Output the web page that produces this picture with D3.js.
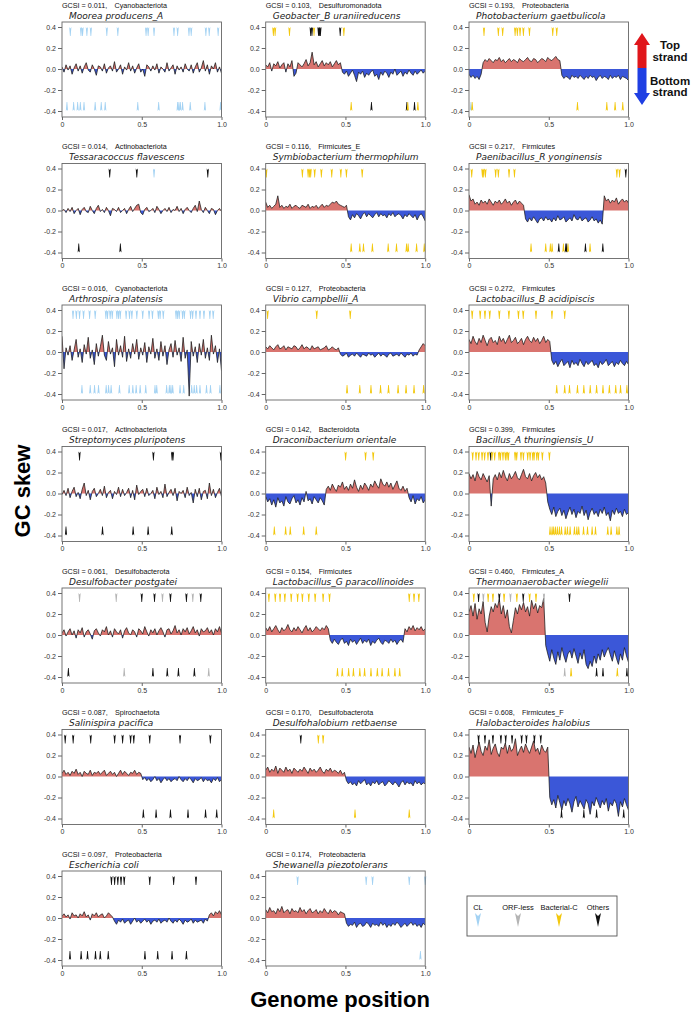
<!DOCTYPE html>
<html><head><meta charset="utf-8">
<script src="https://cdn.jsdelivr.net/npm/d3@7"></script>
<style>body{margin:0;background:#fff}svg{display:block}</style>
</head><body>
<svg id="c" width="691" height="1019"></svg>
<script>
// ---------------- DATA ----------------
const gcsiValues = ["0.011","0.014","0.016","0.017","0.061","0.087","0.097","0.103","0.116","0.127","0.142","0.154","0.170","0.174","0.193","0.217","0.272","0.399","0.460","0.608"];
const phyla = ["Cyanobacteriota","Actinobacteriota","Cyanobacteriota","Actinobacteriota","Desulfobacterota","Spirochaetota","Proteobacteria","Desulfuromonadota","Firmicutes_E","Proteobacteria","Bacteroidota","Firmicutes","Desulfobacterota","Proteobacteria","Proteobacteria","Firmicutes","Firmicutes","Firmicutes","Firmicutes_A","Firmicutes_F"];
const species = ["Moorea producens_A","Tessaracoccus flavescens","Arthrospira platensis","Streptomyces pluripotens","Desulfobacter postgatei","Salinispira pacifica","Escherichia coli","Geobacter_B uraniireducens","Symbiobacterium thermophilum","Vibrio campbellii_A","Draconibacterium orientale","Lactobacillus_G paracollinoides","Desulfohalobium retbaense","Shewanella piezotolerans","Photobacterium gaetbulicola","Paenibacillus_R yonginensis","Lactobacillus_B acidipiscis","Bacillus_A thuringiensis_U","Thermoanaerobacter wiegelii","Halobacteroides halobius"];

const yTicks = [0.4,0.2,0,-0.2,-0.4];
const yTickLabels = ["0.4","0.2","0.0","-0.2","-0.4"];
const xTicks = [0,0.5,1];
const xTickLabels = ["0","0.5","1.0"];
const legendLabels = ["CL","ORF-less","Bacterial-C","Others"];
const legendTypes = ["C","O","B","X"];

// GC skew (x 0.01), evenly spaced along the genome
const skewMoorea = [2,-3,4,-1,3,-5,1,5,-2,3,-4,2,6,-1,-3,4,0,-6,3,2,-2,5,-4,1,3,-2,7,-3,0,4,-5,2,-1,6,-2,3,-4,1,5,-3,0,-7,4,2,-2,3,-1,5,-4,2,0,-3,6,-2,1,4,-5,3,-1,2,-3,5,0,-2,4,-4,2,6,-3,1,8,-2,4,-5,3,0,6,-3,2,-4];
const skewTessaracoccus = [0,1,-2,2,-1,3,-3,0,2,-4,1,3,-1,-2,4,0,-3,2,5,-1,1,-2,3,0,-5,2,1,-1,3,-2,0,2,-3,1,4,-1,2,5,6,-2,-4,1,3,-1,0,2,-2,4,1,-3,0,2,-1,3,-2,1,0,4,-1,2,-3,1,3,0,-2,2,5,-1,9,1,-2,3,0,-3,2,1,-4,0,2,-1];
const skewArthrospira = [15,-16,4,-3,6,-8,2,12,-5,3,-10,7,-2,14,-6,2,-12,8,-4,5,16,-3,-8,10,-2,4,-14,12,-3,6,-5,15,-9,3,-6,8,-2,12,-7,4,-3,9,-10,5,-2,13,-6,3,-8,10,-4,6,-12,2,8,-5,11,-3,4,-9,14,-6,2,-42,10,-4,5,-10,8,-3,12,-6,4,-8,16,-2,6,-10,3,-18];
const skewStreptomyces = [-1,3,-2,5,-4,2,6,-3,1,-5,4,10,-2,3,-6,2,5,-3,0,4,-2,7,-4,1,3,-5,2,-1,6,-3,4,-2,1,5,-4,3,-6,8,-1,2,4,-3,5,-2,0,3,-5,6,-1,2,-4,9,-3,1,4,-2,5,-7,2,0,3,-4,6,-2,1,-9,4,-3,5,-6,2,3,-5,10,-2,4,-4,1,5,-3];
const skewDesulfobacter = [2,5,-1,3,6,0,4,-3,5,2,7,-2,3,5,1,-4,4,6,2,-1,5,3,8,0,4,-2,6,3,1,5,-3,4,7,2,0,5,3,-2,6,4,1,8,3,-1,5,2,6,0,4,7,3,-2,5,6,1,4,9,2,5,0,6,3,7,1,4,8,2,5,-1,6,3,4,7,2,5,0,6,3,8,2];
const skewSalinispira = [3,6,2,4,1,5,3,7,2,4,0,5,3,2,6,1,4,3,5,2,4,6,1,3,5,2,4,0,3,6,2,5,3,1,4,3,6,2,4,3,-3,-1,-4,-2,-5,-3,0,-4,-2,-6,-3,-1,-4,-2,-5,-3,-2,-4,0,-3,-5,-2,-4,-1,-3,-6,-2,-4,-3,-1,-5,-2,-4,-3,-6,-2,-4,-1,-5,-3];
const skewEcoli = [2,4,1,3,-1,5,2,3,0,4,2,6,1,3,-2,4,2,5,1,3,4,0,2,5,3,1,-3,-6,-2,-4,-1,-5,-3,-2,-6,-3,0,-4,-2,-5,-3,-1,-4,-2,-6,-3,-2,-4,-1,-5,-3,-2,-4,0,-3,-5,-2,-4,-1,-3,-6,-2,-4,-3,-1,-5,-2,-4,-3,-2,-5,-1,-3,3,5,2,6,4,7,3];
const skewGeobacter = [4,2,6,-2,5,3,7,1,4,6,-3,5,2,8,-7,-4,6,4,2,5,9,3,6,16,4,7,2,5,8,3,6,4,7,2,5,8,4,6,-3,-5,-2,-7,-4,-1,-6,-12,-3,-5,-2,-8,-4,-6,-3,-1,-7,-5,-10,-3,-6,-2,-4,-8,-3,-5,0,-6,-4,-2,-7,-3,-5,-1,-4,-6,-2,-5,-3,-1,-4,-2];
const skewSymbiobacterium = [8,3,5,2,4,6,14,3,5,2,4,3,6,2,4,5,3,2,5,4,3,6,2,4,3,5,2,4,6,3,5,4,6,8,7,9,6,5,4,3,5,-6,-9,-4,-7,-3,-5,-8,-4,-2,-6,-3,-5,-7,-4,-2,-6,-3,-5,-4,-7,-3,-5,-2,-6,-4,-3,-5,-8,-4,-6,-3,-5,-7,-4,-9,-5,-3,-6,-10];
const skewVibrio = [5,3,6,4,2,5,7,3,4,6,2,5,4,3,6,5,2,4,7,3,5,4,2,6,3,4,5,2,3,4,6,2,3,5,3,2,4,-2,-4,-3,-1,-5,-3,-2,-4,-1,-3,-5,-2,-3,-4,-1,-3,-2,-5,-3,-1,-4,-2,-3,-5,-2,-1,-4,-3,-2,-4,-1,-3,-5,-2,-3,-1,-4,-2,-3,2,5,8,6];
const skewDraconibacterium = [-3,-8,-5,-11,-6,-13,-4,-9,-7,-12,-3,-8,-10,-5,-2,-9,-6,-11,-4,-8,2,-7,-5,-10,-3,-6,-9,-4,-7,-11,4,7,3,9,5,2,8,6,11,4,7,3,9,5,13,6,2,8,4,10,7,3,9,6,12,8,5,14,9,7,11,6,10,4,8,12,5,3,7,2,5,-4,-8,-2,-10,-5,-7,-3,-9,-6];
const skewLactobacillusG = [7,4,8,3,6,9,5,2,7,4,6,10,5,3,7,4,8,5,2,6,9,4,7,3,5,8,6,4,7,5,9,6,-5,-8,-4,-7,-9,-5,-3,-8,-6,-10,-4,-7,-5,-9,-6,-3,-8,-5,-7,-4,-10,-6,-8,-5,-3,-7,-9,-5,-6,-8,-4,-7,-5,-9,-6,-4,-7,6,3,8,5,9,4,7,5,8,4,6];
const skewDesulfohalobium = [6,9,4,7,5,10,3,8,6,4,9,5,7,3,8,6,4,7,5,9,6,3,8,5,7,4,6,9,5,3,7,5,8,4,6,5,3,6,2,4,-4,-7,-5,-8,-6,-9,-4,-7,-5,-3,-8,-6,-9,-5,-7,-4,-8,-6,-5,-9,-7,-4,-6,-8,-5,-7,-10,-6,-4,-8,-5,-7,-6,-9,-4,-7,-5,-8,-6,-7];
const skewShewanella = [8,5,10,6,7,4,9,6,11,5,7,8,4,9,6,7,5,10,6,8,4,7,9,5,6,8,4,7,5,9,6,4,8,5,7,6,3,6,5,4,-5,-8,-6,-7,-4,-9,-6,-5,-8,-7,-4,-6,-9,-5,-7,-6,-8,-4,-7,-5,-9,-6,-8,-5,-7,-4,-6,-9,-7,-5,-8,-6,-4,-7,-5,-8,-6,-9,-5,-7];
const skewPhotobacterium = [-5,-8,-6,-9,-7,-10,-5,6,9,7,10,8,6,9,8,11,7,9,6,8,10,7,9,8,6,10,8,7,9,11,8,7,10,9,6,8,10,9,7,11,9,8,10,12,9,8,-6,-9,-7,-8,-10,-6,-8,-7,-9,-6,-8,-10,-7,-9,-6,-8,-7,-11,-8,-6,-9,-7,-8,-10,-6,-9,-7,-8,-6,-10,-7,-8,-9,-11];
const skewPaenibacillus = [15,9,11,6,8,5,10,7,9,6,11,8,5,9,7,10,6,8,11,7,9,5,8,10,6,9,7,5,-8,-11,-7,-10,-6,-9,-12,-8,-7,-10,-6,-9,-8,-11,-7,-10,-5,-9,-8,-6,-11,-9,-7,-10,-4,-8,-9,-6,-10,-8,-7,-11,-9,-6,-10,-8,-12,-9,-13,14,9,11,7,10,8,12,6,9,11,8,10,7];
const skewLactobacillusB = [12,8,15,10,7,13,9,16,11,6,12,14,9,11,7,15,10,13,8,12,16,9,11,14,8,10,13,7,12,15,11,9,14,10,13,8,11,15,9,12,10,-8,-12,-9,-14,-10,-7,-13,-11,-9,-15,-8,-12,-10,-13,-7,-11,-14,-9,-12,-10,-8,-13,-11,-15,-9,-12,-10,-7,-13,-11,-9,-14,-10,-12,-8,-11,-13,-9,-12];
const skewBacillus = [19,14,18,12,21,16,13,19,15,11,17,-12,14,18,13,20,15,22,16,12,19,14,17,21,15,13,18,23,16,14,19,12,17,20,15,18,13,16,10,-8,-15,-20,-13,-22,-17,-14,-21,-16,-24,-18,-13,-20,-15,-23,-17,-19,-12,-21,-16,-25,-18,-14,-20,-17,-22,-15,-19,-13,-21,-18,-26,-16,-20,-14,-19,-17,-22,-15,-20,-18];
const skewThermoanaerobacter = [22,28,18,30,15,25,20,32,12,3,18,27,22,30,26,34,20,28,16,24,8,2,14,26,20,29,24,31,22,27,18,33,25,30,21,28,26,35,-10,-18,-25,-14,-22,-28,-16,-24,-12,-20,-26,-18,-15,-22,-13,-20,-27,-17,-23,-14,-28,-32,-25,-30,-20,-27,-18,-24,-14,-21,-16,-12,-19,-25,-15,-22,-28,-18,-24,-12,-20,-26];
const skewHalobacteroides = [28,22,30,18,26,33,24,20,29,25,35,21,27,31,23,19,28,26,32,22,30,24,27,36,20,25,29,23,31,26,22,28,34,24,27,21,30,25,23,28,-20,-27,-22,-30,-18,-25,-32,-23,-28,-21,-26,-34,-24,-19,-29,-23,-27,-31,-22,-26,-36,-24,-28,-20,-25,-30,-23,-27,-21,-33,-25,-28,-22,-26,-38,-24,-29,-21,-27,-32];

// marker positions (fraction of genome); a letter sets the type of following positions
// C = CL, O = ORF-less, B = Bacterial-C, X = Others
const topMoorea = ["C",.052,.119,.129,.156,.181,.281,.35,.527,.54,.577,.702,.725,.796,.81,.902,.923,.979];
const botMoorea = ["C",.031,.073,.098,.115,.138,.208,.246,.271,.475,.606,.725,.733,.742,.756,.804,.896,.994];
const topTessaracoccus = ["X",.299,.469,"C",.577,"X",.914];
const botTessaracoccus = ["X",.105,.366];
const topArthrospira = ["C",.069,.09,.11,.135,.173,.208,.275,.285,.302,.315,.344,.354,.365,.402,.423,.438,.469,.506,.546,.567,.604,.615,.635,.715,.725,.735,.756,.767,.806,.819,.84,.865,.89,.927,.948];
const botArthrospira = ["C",.125,.177,.204,.229,.277,.292,.308,.36,.421,.444,.465,.49,.525,.583,.594,.656,.673,.683,.694,.74,.763,.813,.829,.844,.865,.906,.931,.99];
const topStreptomyces = ["X",.11,.573,.69,.696,.996];
const botStreptomyces = ["X",.025,.254,.446,.54,.688];
const topDesulfobacter = ["O",.11,.34,"X",.5,.58,"O",.63,"X",.68,.78,"O",.82,"X",.87];
const botDesulfobacter = ["X",.04,"O",.39,"X",.57,.66,.73,.83,"O",.92];
const topSalinispira = ["X",.02,.07,.18,.33,.38,.43,.45,.55,.74,.93];
const botSalinispira = ["X",.51,.59,.68,.79,.9,.97];
const topEcoli = ["X",.31,.33,.35,.37,.39,.55,.7,.84];
const botEcoli = ["X",.05,.12,.16,.21,.24,.29,.52,.6,.69,.78];
const topGeobacter = ["B",.048,.059,.149,"X",.282,.29,"B",.303,"X",.331,.337,.343,.467,"B",.49];
const botGeobacter = ["B",.536,"X",.663,.885,"B",.891,"X",.933,"B",.954];
const topSymbiobacterium = ["B",.004,.23,.266,.275,.282,.307,.349,.414,.471,.506,.605];
const botSymbiobacterium = ["B",.536,.59,.613,.669,.768,.82,.883,.893,.946,.994];
const topVibrio = ["B",.012,.32,.53];
const botVibrio = ["B",.51,.59,.66,.72,.77,.83,.88,.93,.99];
const topDraconibacterium = ["B",.501,.626,.674];
const botDraconibacterium = ["B",.054,.125,.154,.238,.317];
const topLactobacillusG = ["B",.02,.06,.09,.12,.16,.2,.23,.27,.31,.36,.4,.9,.93,.96];
const botLactobacillusG = ["B",.45,.48,.52,.55,.59,.62,.66,.7,.73,.77,.81,.84];
const topDesulfohalobium = ["X",.22,"B",.33,.36];
const botDesulfohalobium = ["B",.05,.56,.9];
const topShewanella = ["C",.2,.63,.67,.9,1.0];
const botShewanella = ["C",.97];
const topPhotobacterium = ["B",.094,.184,.211,.289,.303,.32,.341,.379,.525,.55];
const botPhotobacterium = ["C",.012,"B",.02,.68,.864,.916,.964];
const topPaenibacillus = ["B",.017,.084,.092,.103,.167,.184,.251,.285,.927,.944,"X",.983];
const botPaenibacillus = ["B",.389,.481,.51,.521,"X",.563,"B",.592,"X",.607,.613,"B",.621,"X",.73,"B",.759,"X",.839];
const topLactobacillusB = ["B",.02,.07,.1,.13,.19,.25,.31,.34,.42,.52,.6];
const botLactobacillusB = ["B",.55,.6,.63,.68,.72,.76,.8,.84,.88,.92,.95,.99];
const topBacillus = ["B",.023,.044,.061,.082,.098,.119,"X",.136,"B",.144,.161,.188,.197,.213,.228,.238,.247,.289,.299,.326,.341,.368,.383,.4,.408,.425,.435,.46,.504];
const botBacillus = ["B",.508,.521,.531,.542,.554,.567,.58,.603,.617,.634,.661,.676,.688,.718,.743,.772,.793,.87,.891,.927,.941];
const topThermoanaerobacter = ["B",.03,"X",.06,"O",.09,"B",.12,.15,"X",.19,"B",.22,"O",.26,"B",.3,"X",.34,"B",.38,.42,"O",.47,"X",.63];
const botThermoanaerobacter = ["O",.6,"B",.64,"X",.8,.84,"B",.93,"X",.99];
const topHalobacteroides = ["X",.06,.1,.15,.2,.23,.27,.33,.36,.41,.45];
const botHalobacteroides = ["X",.58,.72,.8,.97];

const panelSkews = [skewMoorea,skewTessaracoccus,skewArthrospira,skewStreptomyces,skewDesulfobacter,skewSalinispira,skewEcoli,skewGeobacter,skewSymbiobacterium,skewVibrio,skewDraconibacterium,skewLactobacillusG,skewDesulfohalobium,skewShewanella,skewPhotobacterium,skewPaenibacillus,skewLactobacillusB,skewBacillus,skewThermoanaerobacter,skewHalobacteroides];
const panelTop = [topMoorea,topTessaracoccus,topArthrospira,topStreptomyces,topDesulfobacter,topSalinispira,topEcoli,topGeobacter,topSymbiobacterium,topVibrio,topDraconibacterium,topLactobacillusG,topDesulfohalobium,topShewanella,topPhotobacterium,topPaenibacillus,topLactobacillusB,topBacillus,topThermoanaerobacter,topHalobacteroides];
const panelBot = [botMoorea,botTessaracoccus,botArthrospira,botStreptomyces,botDesulfobacter,botSalinispira,botEcoli,botGeobacter,botSymbiobacterium,botVibrio,botDraconibacterium,botLactobacillusG,botDesulfohalobium,botShewanella,botPhotobacterium,botPaenibacillus,botLactobacillusB,botBacillus,botThermoanaerobacter,botHalobacteroides];

// ---------------- DRAWING ----------------
const svg = d3.select("#c");
const colX = [62, 265.7, 469];
const rowY0 = 22, rowStep = 141.5, boxW = 159.5, boxH = 95;
const markerColor = {C:"#a3d2f3", O:"#b4b4b4", B:"#f3c80d", X:"#111111"};
const redFill = "#d9746f", blueFill = "#3b57d8";
const sansFont = "'Liberation Sans', Arial, sans-serif";

function parseMarkers(arr){
  let t = "X"; const out = [];
  arr.forEach(v => { if (typeof v === "string") t = v; else out.push({p:v, t}); });
  return out;
}
function withCrossings(vals){
  const n = vals.length, pts = [];
  for (let i = 0; i < n; i++){
    const xi = i/(n-1), vi = vals[i]/100;
    if (i > 0){
      const xp = (i-1)/(n-1), vp = vals[i-1]/100;
      if ((vp > 0 && vi < 0) || (vp < 0 && vi > 0)){
        pts.push([xp + (xi-xp)*(vp/(vp-vi)), 0]);
      }
    }
    pts.push([xi, vi]);
  }
  return pts;
}

panelSkews.forEach((vals, k) => {
  const col = Math.floor(k/7), row = k%7;
  const x0 = colX[col], y0 = rowY0 + row*rowStep;
  const x = d3.scaleLinear().domain([0,1]).range([x0, x0+boxW]);
  const y = d3.scaleLinear().domain([-0.4,0.4]).range([y0+89, y0+5]);
  const g = svg.append("g");

  g.append("clipPath").attr("id","clip"+k).append("rect")
    .attr("x",x0).attr("y",y0).attr("width",boxW).attr("height",boxH);

  const pts = withCrossings(vals);
  const plot = g.append("g").attr("clip-path",`url(#clip${k})`);
  plot.append("path").datum(pts)
    .attr("d", d3.area().x(d=>x(d[0])).y0(y(0)).y1(d=>y(Math.max(d[1],0))))
    .attr("fill", redFill);
  plot.append("path").datum(pts)
    .attr("d", d3.area().x(d=>x(d[0])).y0(y(0)).y1(d=>y(Math.min(d[1],0))))
    .attr("fill", blueFill);
  const linePts = vals.map((v,i)=>[i/(vals.length-1), v/100]);
  plot.append("path").datum(linePts)
    .attr("d", d3.line().x(d=>x(d[0])).y(d=>y(d[1])))
    .attr("fill","none").attr("stroke","#1a1a1a").attr("stroke-width",0.75)
    .attr("stroke-linejoin","round");

  // markers
  const tops = parseMarkers(panelTop[k]);
  g.selectAll(".mt").data(tops).join("path")
    .attr("transform", d => `translate(${x(d.p)},${y(0.40)})`)
    .attr("d", "M-1.1,0L0,1.6L1.1,0L0.35,9L-0.35,9Z")
    .attr("fill", d => markerColor[d.t]);
  const bots = parseMarkers(panelBot[k]);
  g.selectAll(".mb").data(bots).join("path")
    .attr("transform", d => `translate(${x(d.p)},${y(-0.40)})`)
    .attr("d", "M-1.1,0L0,-1.6L1.1,0L0.35,-9L-0.35,-9Z")
    .attr("fill", d => markerColor[d.t]);

  // box
  g.append("rect").attr("x",x0).attr("y",y0).attr("width",boxW).attr("height",boxH)
    .attr("fill","none").attr("stroke","#666").attr("stroke-width",0.9);

  // axes
  const ya = g.append("g").attr("transform",`translate(${x0},0)`)
    .call(d3.axisLeft(y).tickValues(yTicks).tickSize(4).tickPadding(2)
      .tickFormat((d,i)=>yTickLabels[i]));
  const xa = g.append("g").attr("transform",`translate(0,${y0+boxH})`)
    .call(d3.axisBottom(x).tickValues(xTicks).tickSize(3).tickPadding(2)
      .tickFormat((d,i)=>xTickLabels[i]));
  [ya, xa].forEach(a => {
    a.select(".domain").remove();
    a.selectAll("line").attr("stroke","#666");
    a.selectAll("text").attr("fill","#333").style("font",`7px ${sansFont}`);
  });

  // titles
  const t1 = g.append("text")
    .attr("transform",`translate(${x0},${y0-14.5}) scale(0.9,1)`)
    .attr("fill","#111").style("font",`8px ${sansFont}`);
  t1.append("tspan").text(`GCSI = ${gcsiValues[k]},`);
  t1.append("tspan").attr("dx",8).text(phyla[k]);
  g.append("text").attr("x",x0+7).attr("y",y0-3.5)
    .attr("fill","#222")
    .style("font","italic 9px 'DejaVu Sans', Verdana, sans-serif")
    .text(species[k]);
});

// strand arrows
const ax = 642;
svg.append("path")
  .attr("d",`M${ax},33 L${ax+8},45 L${ax+4.5},45 L${ax+4.5},68 L${ax-4.5},68 L${ax-4.5},45 L${ax-8},45 Z`)
  .attr("fill","#e0161b");
svg.append("path")
  .attr("d",`M${ax},105 L${ax+8},93 L${ax+4.5},93 L${ax+4.5},68 L${ax-4.5},68 L${ax-4.5},93 L${ax-8},93 Z`)
  .attr("fill","#1f3fe3");
[["Top",49],["strand",61],["Bottom",84.5],["strand",96]].forEach(([s,yy])=>{
  svg.append("text").attr("x",670).attr("y",yy).attr("text-anchor","middle")
    .style("font",`bold 11.5px ${sansFont}`).attr("fill","#111").text(s);
});

// legend
svg.append("rect").attr("x",467).attr("y",896).attr("width",150).attr("height",40)
  .attr("fill","none").attr("stroke","#555").attr("stroke-width",0.9);
const legX = [478,518,559,598];
legendLabels.forEach((lab,i)=>{
  svg.append("text").attr("x",legX[i]).attr("y",909.5).attr("text-anchor","middle")
    .style("font",`7.5px ${sansFont}`).attr("fill","#111").text(lab);
  svg.append("path").attr("transform",`translate(${legX[i]},913)`)
    .attr("d","M-3,0L0,3L3,0L0,14Z").attr("fill",markerColor[legendTypes[i]]);
});

// axis titles
svg.append("text").attr("transform","translate(30,491) rotate(-90)")
  .attr("text-anchor","middle").style("font",`bold 22px ${sansFont}`).attr("fill","#000")
  .text("GC skew");
svg.append("text").attr("x",340).attr("y",1007).attr("text-anchor","middle")
  .style("font",`bold 22px ${sansFont}`).attr("fill","#000").text("Genome position");
</script>
</body></html>
